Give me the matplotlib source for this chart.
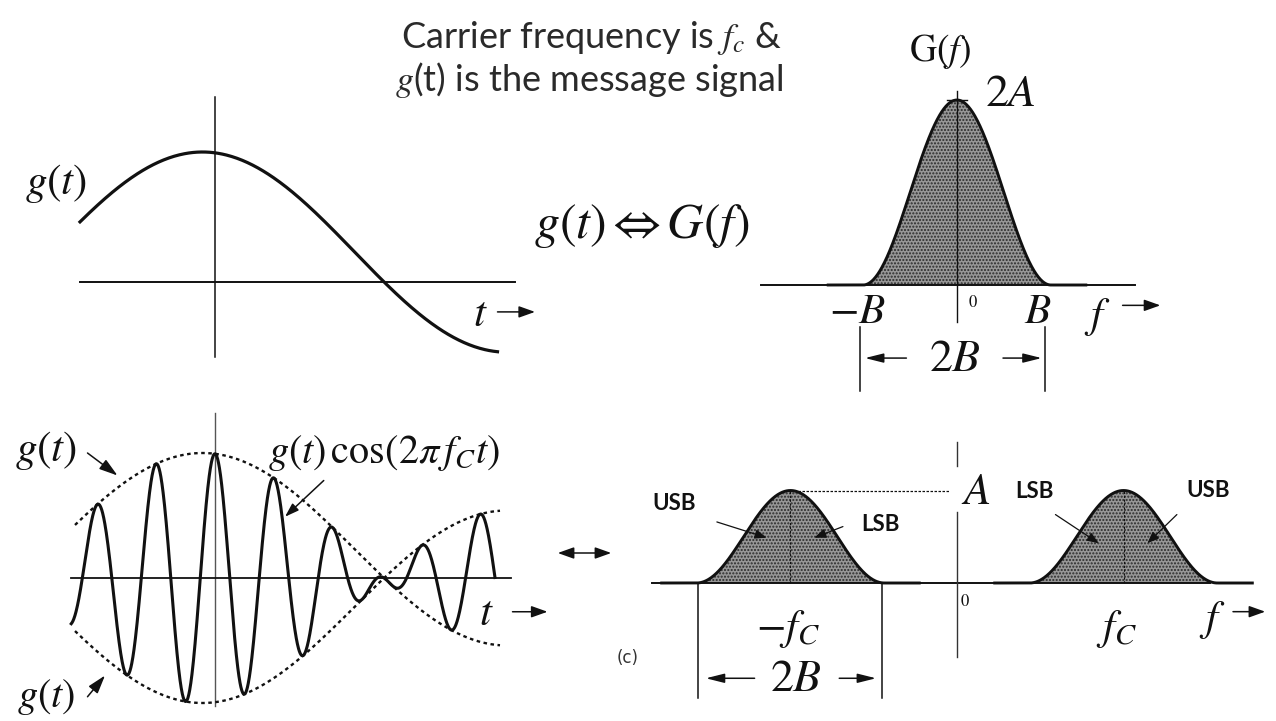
import numpy as np
import matplotlib
matplotlib.use("Agg")
import matplotlib.pyplot as plt
from matplotlib.patches import FancyArrowPatch

plt.rcParams["mathtext.fontset"] = "stix"
plt.rcParams["font.family"] = "Lato"

W, H = 1276, 721

# message signal g(t) = dc + amp*cos(w*(t - t0)), t in plot units
MSG_DC, MSG_AMP, MSG_W, MSG_T0 = 0.23, 0.77, 1.29, -0.10
MSG_SPAN = [-1.08, 2.26]      # top-left trace
ENV_SPAN = [-1.12, 2.28]      # dashed envelopes
MOD_SPAN = [-1.15, 2.24]      # modulated trace
FC = 2.12                     # carrier cycles per t unit

# spectra, f in units of B (raised-cosine shaped bumps)
SPEC_PEAK = [2.0, 1.0]        # 2A for G(f), A for each shifted copy
SPEC_HALF = 1.02              # bump half-width ~ B
F_C = 1.81                    # fc / B

INK = "#111111"
FILL = dict(facecolor="#979797", edgecolor="#2a2a2a", hatch=".....", linewidth=0)
HEAD = "-|>,head_length=0.7,head_width=0.25"
LONG = "-|>,head_length=0.8,head_width=0.2"


def msg(t):
    return MSG_DC + MSG_AMP * np.cos(MSG_W * (t - MSG_T0))


def spec(f, centre, peak):
    x = np.clip((f - centre) / SPEC_HALF, -1, 1)
    return peak * np.cos(np.pi * x / 2) ** 2


def panel(ox, oy, sx, sy, xlim, ylim):
    # axes whose data origin sits at pixel (ox, oy), sx/sy pixels per unit
    left = (ox + xlim[0] * sx) / W
    bottom = 1 - (oy - ylim[0] * sy) / H
    ax = fig.add_axes([left, bottom, (xlim[1] - xlim[0]) * sx / W,
                       (ylim[1] - ylim[0]) * sy / H])
    ax.set_xlim(xlim); ax.set_ylim(ylim); ax.axis("off")
    return ax


def arrow(ax, tail, tip, style=HEAD, lw=1.1, ms=14):
    ax.annotate("", xy=tip, xytext=tail,
                arrowprops=dict(arrowstyle=style, color=INK, lw=lw,
                                shrinkA=0, shrinkB=0, mutation_scale=ms))


def label(ax, x, y, s, size=31, **kw):
    ax.text(x, y, s, fontsize=size, ha="center", va="center", color=INK, **kw)


fig = plt.figure(figsize=(W / 100, H / 100), dpi=100)
fig.patch.set_facecolor("white")

# ── title ────────────────────────────────────────────────────────────────────
fig.text(592 / W, 1 - 38 / H, "Carrier frequency is $f_c$ &", fontsize=26,
         ha="center", va="center", color="#2a2a2a")
fig.text(589 / W, 1 - 80 / H, "$g$(t) is the message signal", fontsize=26,
         ha="center", va="center", color="#2a2a2a")

# ── top-left: g(t) ───────────────────────────────────────────────────────────
ax1 = panel(215, 282, 125, 130, (-1.7, 2.9), (-0.8, 1.55))
t = np.linspace(*MSG_SPAN, 400)
ax1.plot([-1.08, 2.4], [0, 0], color=INK, lw=1.4)
ax1.plot([0, 0], [1.42, -0.58], color=INK, lw=1.1)
ax1.plot(t, msg(t), color=INK, lw=2.3)
label(ax1, -1.27, 0.76, "$g(t)$")
label(ax1, 2.12, -0.25, "$t$")
arrow(ax1, (2.26, -0.23), (2.56, -0.23))

# ── middle formula ───────────────────────────────────────────────────────────
fig.text(642 / W, 1 - 226 / H, r"$g(t) \Leftrightarrow G(f)$", fontsize=36,
         ha="center", va="center", color=INK)

# ── top-right: G(f) ──────────────────────────────────────────────────────────
ax2 = panel(957, 285, 92, 92.5, (-2.5, 2.4), (-1.3, 2.9))
f = np.linspace(-1.4, 1.4, 500)
g_f = spec(f, 0, SPEC_PEAK[0])
ax2.fill_between(f, 0, g_f, **FILL)
ax2.plot([-2.13, 1.93], [0, 0], color=INK, lw=1.4)
ax2.plot(f, g_f, color=INK, lw=2.1)
ax2.plot([0, 0], [2.1, -0.4], color=INK, lw=1.0)
ax2.plot([-0.11, 0.11], [2.0, 2.0], color=INK, lw=1.0)
label(ax2, -0.18, 2.52, r"$\mathrm{G}(f)$", size=27)
label(ax2, 0.58, 2.08, "$2A$", size=33)
label(ax2, -1.08, -0.28, "$-B$")
label(ax2, 0.17, -0.18, "$0$", size=12)
label(ax2, 0.88, -0.28, "$B$")
label(ax2, 1.52, -0.35, "$f$")
arrow(ax2, (1.80, -0.22), (2.21, -0.22))
for fx in (-1.05, 0.96):
    ax2.plot([fx, fx], [-0.45, -1.15], color=INK, lw=1.1)
label(ax2, -0.02, -0.79, "$2B$", size=33)
arrow(ax2, (-0.55, -0.79), (-1.0, -0.79), LONG)
arrow(ax2, (0.50, -0.79), (0.92, -0.79), LONG)

# ── bottom-left: g(t) cos(2π fc t) ───────────────────────────────────────────
ax3 = panel(215, 578, 125, 125, (-1.75, 2.9), (-1.25, 1.4))
te = np.linspace(*ENV_SPAN, 300)
tm = np.linspace(*MOD_SPAN, 1500)
ax3.plot([0, 0], [1.32, -1.02], color="#555555", lw=1.0)
ax3.plot([-1.15, 2.37], [0, 0], color=INK, lw=1.3)
for sgn in (1, -1):
    ax3.plot(te, sgn * msg(te), color=INK, lw=1.7, ls=(0, (1.5, 1.5)))
ax3.plot(tm, msg(tm) * np.cos(2 * np.pi * FC * tm), color=INK, lw=2.2)
label(ax3, -1.35, 1.02, "$g(t)$")
arrow(ax3, (-1.02, 1.0), (-0.78, 0.82), "-|>,head_length=0.8,head_width=0.25")
label(ax3, -1.35, -0.95, "$g(t)$", size=29)
arrow(ax3, (-1.02, -0.95), (-0.88, -0.78), "-|>,head_length=0.8,head_width=0.25")
label(ax3, 1.35, 1.0, r"$g(t)\,\cos(2\pi\, f_C t)$", size=29)
arrow(ax3, (0.87, 0.78), (0.56, 0.49), "-|>,head_length=0.6,head_width=0.2")
label(ax3, 2.17, -0.28, "$t$")
arrow(ax3, (2.38, -0.27), (2.66, -0.27))

# double arrow between the two lower plots
fig.add_artist(FancyArrowPatch(
    (555 / W, 1 - 553 / H), (614 / W, 1 - 553 / H), transform=fig.transFigure,
    arrowstyle="<|-|>,head_length=0.7,head_width=0.25", mutation_scale=14,
    color=INK, lw=1.1))
fig.text(628 / W, 1 - 658 / H, "(c)", fontsize=12, ha="center", va="center",
         color="#333333", family="DejaVu Sans")

# ── bottom-right: spectrum of modulated signal ──────────────────────────────
ax4 = panel(957, 583, 92, 92.5, (-3.6, 3.5), (-1.5, 1.7))
ax4.plot([-3.32, 2.75], [0, 0], color=INK, lw=1.4)
for c in (-F_C, F_C):
    fb = np.linspace(c - 1.4, c + 1.4, 500)
    yb = spec(fb, c, SPEC_PEAK[1])
    ax4.fill_between(fb, 0, yb, **FILL)
    ax4.plot(fb, yb, color=INK, lw=2.1)
    ax4.plot([c, c], [0, SPEC_PEAK[1]], color=INK, lw=0.8, ls=(0, (2, 1.5)))
ax4.plot([0, 0], [1.52, 1.27], color="#333333", lw=1.0)
ax4.plot([0, 0], [0.77, -0.80], color="#333333", lw=1.0)
ax4.plot([-F_C, -0.08], [SPEC_PEAK[1]] * 2, color=INK, lw=0.9, ls=(0, (2, 1.2)))
label(ax4, 0.2, 0.99, "$A$", size=32)
label(ax4, 0.84, 0.99, "LSB", size=16, weight="bold")
label(ax4, 2.73, 1.0, "USB", size=16, weight="bold")
label(ax4, -3.07, 0.86, "USB", size=16, weight="bold")
label(ax4, -0.83, 0.63, "LSB", size=16, weight="bold")
sb = "-|>,head_length=0.5,head_width=0.2"
arrow(ax4, (-2.61, 0.66), (-2.07, 0.49), sb, lw=0.9)
arrow(ax4, (-1.24, 0.61), (-1.55, 0.49), sb, lw=0.9)
arrow(ax4, (1.07, 0.74), (1.54, 0.43), sb, lw=0.9)
arrow(ax4, (2.39, 0.74), (2.07, 0.43), sb, lw=0.9)
label(ax4, 0.09, -0.19, "$0$", size=12)
label(ax4, -1.84, -0.5, "$-f_C$")
label(ax4, 1.73, -0.5, "$f_C$")
label(ax4, 2.77, -0.40, "$f$")
arrow(ax4, (3.0, -0.31), (3.35, -0.31))
for fx in (-F_C - 1.01, -F_C + 1.0):
    ax4.plot([fx, fx], [0, -1.24], color=INK, lw=1.1)
label(ax4, -1.75, -1.03, "$2B$", size=33)
arrow(ax4, (-2.2, -1.03), (-2.73, -1.03), LONG)
arrow(ax4, (-1.28, -1.03), (-0.88, -1.03), LONG)

fig.savefig("out.png", dpi=100)
